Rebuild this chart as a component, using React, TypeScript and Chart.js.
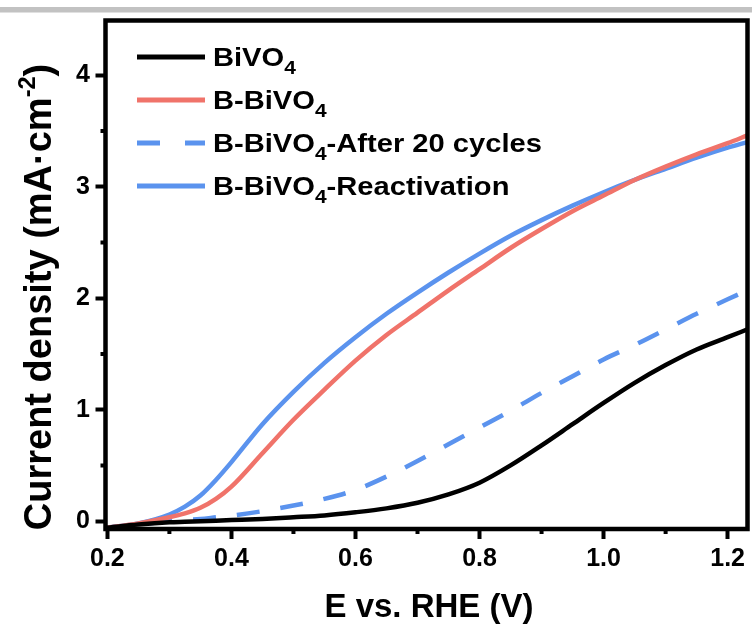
import { useEffect, useRef } from 'react';
import { Chart, registerables } from 'chart.js';

Chart.register(...registerables);

// Linear sweep voltammetry curves: potential (V vs. RHE) and current density (mA·cm⁻²)
const potentialV = [0.197, 0.25, 0.3, 0.325, 0.35, 0.375, 0.4, 0.45, 0.5, 0.55, 0.6, 0.65, 0.7, 0.75, 0.8, 0.85, 0.9, 0.95, 1.0, 1.05, 1.1, 1.15, 1.2, 1.232];

const bivo4J = [-0.06, -0.03, -0.01, -0.005, 0.0, 0.005, 0.01, 0.02, 0.035, 0.052, 0.08, 0.115, 0.165, 0.24, 0.345, 0.5, 0.68, 0.87, 1.06, 1.24, 1.4, 1.54, 1.65, 1.72];
const bBivo4J = [-0.06, -0.02, 0.035, 0.07, 0.12, 0.2, 0.31, 0.61, 0.91, 1.18, 1.44, 1.67, 1.87, 2.07, 2.26, 2.45, 2.62, 2.78, 2.92, 3.06, 3.18, 3.29, 3.39, 3.46];
const cycledJ = [-0.06, -0.03, 0.0, 0.01, 0.02, 0.035, 0.05, 0.09, 0.14, 0.2, 0.28, 0.4, 0.54, 0.69, 0.84, 0.99, 1.15, 1.3, 1.45, 1.58, 1.72, 1.86, 1.99, 2.07];
const reactJ = [-0.06, -0.02, 0.06, 0.13, 0.23, 0.37, 0.53, 0.87, 1.16, 1.42, 1.65, 1.86, 2.05, 2.23, 2.4, 2.56, 2.7, 2.83, 2.95, 3.06, 3.16, 3.26, 3.35, 3.4];

const seriesNames = ['BiVO₄', 'B-BiVO₄', 'B-BiVO₄-After 20 cycles', 'B-BiVO₄-Reactivation'];
const seriesColors = ['#000000', '#F0736A', '#5B93EE', '#5B93EE'];

const xTickValues = [0.2, 0.4, 0.6, 0.8, 1.0, 1.2];
const xMinorValues = [0.3, 0.5, 0.7, 0.9, 1.1];
const yTickValues = [0, 1, 2, 3, 4];
const yMinorValues = [0.5, 1.5, 2.5, 3.5];

const xTitle = 'E vs. RHE (V)';
const yTitle = 'Current density (mA·cm⁻²)';

const FONT = '"Liberation Sans", Arial, Helvetica, sans-serif';

type Part = { t: string; mode: 'n' | 'sub' | 'sup' };

function richParts(text: string): Part[] {
  return text
    .split(/(₄|⁻²)/)
    .filter((s) => s.length > 0)
    .map((s) => {
      if (s === '₄') return { t: '4', mode: 'sub' as const };
      if (s === '⁻²') return { t: '-2', mode: 'sup' as const };
      return { t: s, mode: 'n' as const };
    });
}

function partFont(mode: Part['mode'], size: number) {
  const s = mode === 'n' ? size : mode === 'sub' ? size * 0.72 : size * 0.62;
  return `bold ${s}px ${FONT}`;
}

// Draws text with sub/superscripts; y is the alphabetic baseline.
function drawRich(
  ctx: CanvasRenderingContext2D,
  text: string,
  x: number,
  y: number,
  size: number,
  align: 'left' | 'center',
  stretch = 1,
) {
  const parts = richParts(text);
  const widths = parts.map((p) => {
    ctx.font = partFont(p.mode, size);
    return ctx.measureText(p.t).width;
  });
  const total = widths.reduce((a, b) => a + b, 0);
  ctx.save();
  ctx.translate(x, y);
  ctx.scale(stretch, 1);
  let cx = align === 'center' ? -total / 2 : 0;
  ctx.textAlign = 'left';
  ctx.textBaseline = 'alphabetic';
  parts.forEach((p, i) => {
    ctx.font = partFont(p.mode, size);
    const dy = p.mode === 'sub' ? size * 0.3 : p.mode === 'sup' ? -size * 0.42 : 0;
    ctx.fillText(p.t, cx, dy);
    cx += widths[i];
  });
  ctx.restore();
}

const framePlugin = {
  id: 'framePlugin',
  beforeDraw(chart: any) {
    const ctx: CanvasRenderingContext2D = chart.ctx;
    ctx.save();
    ctx.fillStyle = '#ffffff';
    ctx.fillRect(0, 0, chart.width, chart.height);
    ctx.fillStyle = '#c2c2c2';
    ctx.fillRect(0, 7, chart.width, 5.5);
    ctx.restore();
  },
  afterDraw(chart: any) {
    const ctx: CanvasRenderingContext2D = chart.ctx;
    const a = chart.chartArea;
    const xs = chart.scales.x;
    const ys = chart.scales.y;
    ctx.save();
    ctx.strokeStyle = '#000';
    ctx.lineWidth = 4;
    ctx.lineCap = 'butt';
    ctx.beginPath();
    xMinorValues.forEach((v) => {
      const px = xs.getPixelForValue(v);
      ctx.moveTo(px, a.bottom);
      ctx.lineTo(px, a.bottom + 5);
    });
    yMinorValues.forEach((v) => {
      const py = ys.getPixelForValue(v);
      ctx.moveTo(a.left - 5, py);
      ctx.lineTo(a.left, py);
    });
    ctx.stroke();

    ctx.lineWidth = 4.5;
    ctx.strokeRect(a.left, a.top, a.right - a.left, a.bottom - a.top);

    // legend
    const lx0 = 137;
    const lx1 = 205;
    const tx = 213;
    const size = 26;
    chart.data.datasets.forEach((ds: any, i: number) => {
      const y = 57 + i * 43;
      ctx.strokeStyle = ds.borderColor;
      ctx.lineWidth = 5;
      ctx.setLineDash(ds.borderDash && ds.borderDash.length ? [23, 25] : []);
      ctx.beginPath();
      ctx.moveTo(lx0, y);
      ctx.lineTo(lx1, y);
      ctx.stroke();
      ctx.setLineDash([]);
      ctx.fillStyle = '#000';
      drawRich(ctx, ds.label, tx, y + (size * 0.716) / 2, size, 'left', 1.12);
    });

    // axis titles
    ctx.fillStyle = '#000';
    drawRich(ctx, xTitle, 429, 617, 33, 'center');
    ctx.save();
    ctx.translate(51, 297);
    ctx.rotate(-Math.PI / 2);
    drawRich(ctx, yTitle, 0, 0, 38, 'center');
    ctx.restore();

    ctx.restore();
  },
};

export default function App() {
  const canvasRef = useRef<HTMLCanvasElement | null>(null);

  useEffect(() => {
    const canvas = canvasRef.current;
    if (!canvas) return;
    const toPoints = (js: number[]) => potentialV.map((v, i) => ({ x: v, y: js[i] }));
    const tickFont = { family: FONT, weight: 'bold' as const, size: 25 };
    const chart = new Chart(canvas, {
      type: 'line',
      data: {
        datasets: [
          { label: seriesNames[0], data: toPoints(bivo4J), borderColor: seriesColors[0], borderWidth: 4.5 },
          { label: seriesNames[1], data: toPoints(bBivo4J), borderColor: seriesColors[1], borderWidth: 4.5 },
          { label: seriesNames[2], data: toPoints(cycledJ), borderColor: seriesColors[2], borderWidth: 4.5, borderDash: [23, 21] },
          { label: seriesNames[3], data: toPoints(reactJ), borderColor: seriesColors[3], borderWidth: 4.5 },
        ],
      },
      options: {
        responsive: false,
        devicePixelRatio: 1,
        animation: false,
        events: [],
        layout: { padding: { top: 14.5, right: 4.5, left: 0, bottom: 0 } },
        elements: {
          point: { radius: 0 },
          line: { cubicInterpolationMode: 'monotone', fill: false, borderCapStyle: 'butt' },
        },
        plugins: { legend: { display: false }, tooltip: { enabled: false }, title: { display: false } },
        scales: {
          x: {
            type: 'linear',
            min: 0.197,
            max: 1.232,
            afterBuildTicks: (s: any) => {
              s.ticks = xTickValues.map((v) => ({ value: v }));
            },
            afterFit: (s: any) => {
              s.height = 101;
            },
            ticks: {
              font: tickFont,
              color: '#000',
              padding: 5,
              maxRotation: 0,
              autoSkip: false,
              callback: (v: any) => Number(v).toFixed(1),
            },
            grid: { display: true, drawOnChartArea: false, drawTicks: true, tickLength: 10, tickWidth: 4, tickColor: '#000' },
            border: { display: false },
            title: { display: false },
          },
          y: {
            type: 'linear',
            min: -0.07,
            max: 4.49,
            afterBuildTicks: (s: any) => {
              s.ticks = yTickValues.map((v) => ({ value: v }));
            },
            afterFit: (s: any) => {
              s.width = 105.5;
            },
            ticks: {
              font: tickFont,
              color: '#000',
              padding: 5.5,
              autoSkip: false,
              callback: (v: any) => String(v),
            },
            grid: { display: true, drawOnChartArea: false, drawTicks: true, tickLength: 10, tickWidth: 4, tickColor: '#000' },
            border: { display: false },
            title: { display: false },
          },
        },
      },
      plugins: [framePlugin],
    });
    return () => chart.destroy();
  }, []);

  return (
    <div style={{ position: 'absolute', left: 0, top: 0, width: 752, height: 630, background: '#fff' }}>
      <canvas ref={canvasRef} width={752} height={630} style={{ display: 'block' }} />
    </div>
  );
}
